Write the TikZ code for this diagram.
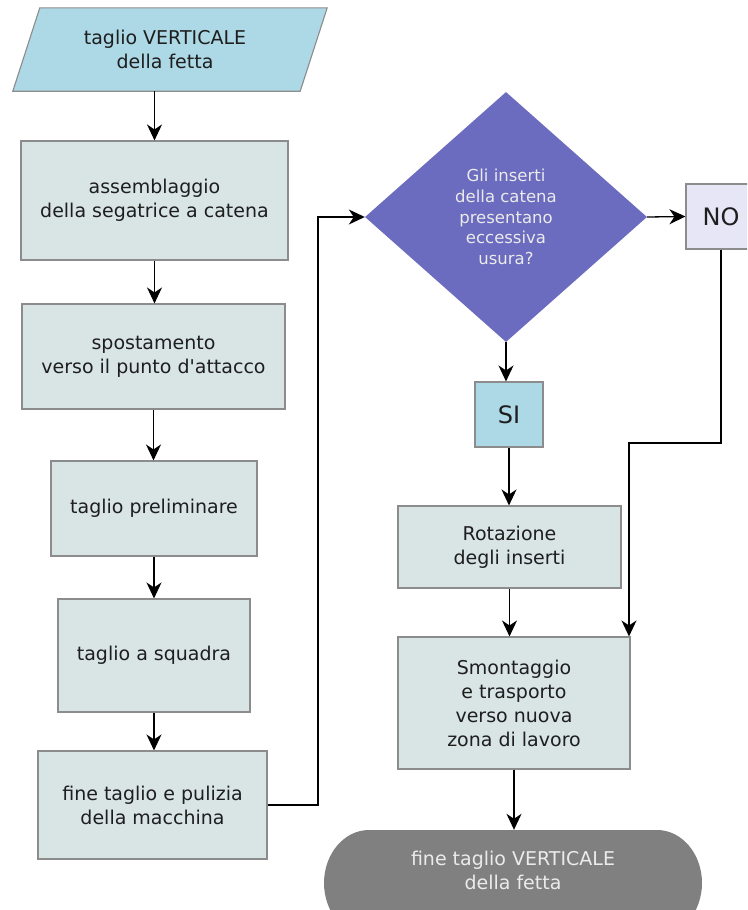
\documentclass[tikz,border=0pt]{standalone}
\usepackage{fontspec}
\setmainfont{DejaVu Sans}
\usetikzlibrary{shapes.geometric,arrows.meta}

\definecolor{boxfill}{HTML}{D9E5E5}
\definecolor{boxline}{HTML}{8C8C8C}
\definecolor{iofill}{HTML}{ADD8E6}
\definecolor{decfill}{HTML}{6B6BBF}
\definecolor{nofill}{HTML}{E6E6F7}
\definecolor{endfill}{HTML}{808080}
\definecolor{ink}{HTML}{1E1E1E}

\tikzset{
  x=1pt, y=-1pt,
  every node/.style={font=\fontsize{19}{24}\selectfont, text=ink, align=center, inner sep=0pt},
  procbox/.style={rectangle, draw=boxline, line width=1.1pt, fill=boxfill},
  answerbox/.style={rectangle, draw=boxline, line width=1.1pt, font=\fontsize{24}{28}\selectfont},
  arr/.style={line width=1.3pt, -{Stealth[length=16pt,width=15pt,inset=5pt]}},
}

\begin{document}
\begin{tikzpicture}
\clip (0,0) rectangle (747,910);
\fill[white] (0,0) rectangle (747,910);

% input / start block (parallelogram drawn around the text node)
\node[minimum width=314pt, minimum height=83pt] (start) at (170,49.5) {};
\filldraw[fill=iofill, draw=boxline, line width=1.1pt]
  ([xshift=27pt]start.north west) -- (start.north east)
  -- ([xshift=-27pt]start.south east) -- (start.south west) -- cycle;
\node at (165,49.5) {taglio VERTICALE\\della fetta};

% left column of process steps
\node[procbox, minimum width=267pt, minimum height=119pt] (a1) at (154.5,200.5)
  {assemblaggio\\della segatrice a catena};
\node[procbox, minimum width=263pt, minimum height=105pt] (a2) at (153.5,356.5)
  {spostamento\\verso il punto d\textquotesingle attacco};
\node[procbox, minimum width=206pt, minimum height=95pt] (a3) at (154,508.5)
  {taglio preliminare};
\node[procbox, minimum width=192pt, minimum height=113pt] (a4) at (154,655.5)
  {taglio a squadra};
\node[procbox, minimum width=229pt, minimum height=108pt] (a5) at (152.5,805)
  {fine taglio e pulizia\\della macchina};

% decision
\node[diamond, fill=decfill, minimum width=282pt, minimum height=250pt,
      text=white!92!black, font=\fontsize{16.5}{20.7}\selectfont] (d) at (506,217)
  {Gli inserti\\della catena\\presentano\\eccessiva\\usura?};

% answers
\node[answerbox, fill=nofill, minimum width=70pt, minimum height=65pt] (no) at (721,216.5) {NO};
\node[answerbox, fill=iofill, minimum width=68pt, minimum height=65pt] (si) at (509,414.5) {SI};

% right column
\node[procbox, minimum width=223pt, minimum height=82pt] (rot) at (509.5,547)
  {Rotazione\\degli inserti};
\node[procbox, minimum width=232pt, minimum height=132pt] (sm) at (514,703)
  {Smontaggio\\e trasporto\\verso nuova\\zona di lavoro};

% terminal: flat top and bottom with elliptical ends
\fill[endfill] (369,830) -- (657,830)
  .. controls (682,830) and (702,854) .. (702,883)
  .. controls (702,912) and (682,936) .. (657,936) -- (369,936)
  .. controls (344,936) and (324,912) .. (324,883)
  .. controls (324,854) and (344,830) .. (369,830) -- cycle;
\node[minimum width=378pt, minimum height=80pt, text=white!92!black] (fine) at (513,870)
  {fine taglio VERTICALE\\della fetta};

% connectors
\draw[arr] (start.south -| a1.north) -- (a1.north);
\draw[arr] (a1.south) -- (a1.south |- a2.north);
\draw[arr] (a2.south) -- (a2.south |- a3.north);
\draw[arr] (a3.south) -- (a3.south |- a4.north);
\draw[arr] (a4.south) -- (a4.south |- a5.north);

\coordinate (jog) at (318,0);
\draw[arr] (a5.east) -| (jog |- d.west) -- (d.west);

\draw[arr] (d.east) -- (no.west);
\draw[arr] (d.south) -- (d.south |- si.north);
\draw[arr] (si.south) -- (si.south |- rot.north);
\draw[arr] (rot.south) -- (rot.south |- sm.north);

\coordinate (nobend) at (629,443);
\draw[arr] (no.south) |- (nobend) -- (nobend |- sm.north);

\draw[arr] (sm.south) -- (sm.south |- fine.north);
\end{tikzpicture}
\end{document}
